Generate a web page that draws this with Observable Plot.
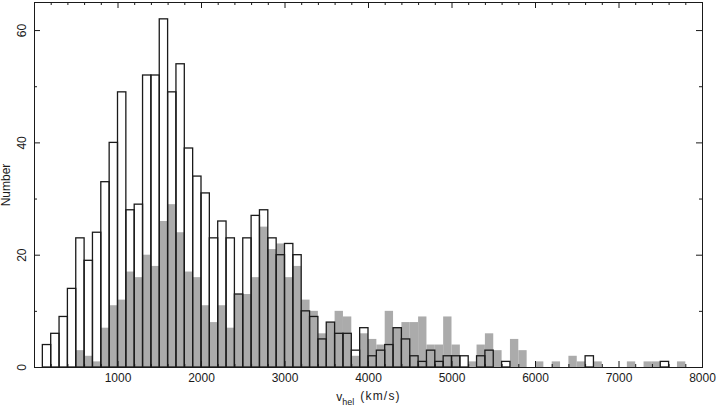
<!DOCTYPE html>
<html>
<head>
<meta charset="utf-8">
<script src="https://cdn.jsdelivr.net/npm/d3@7"></script>
<script src="https://cdn.jsdelivr.net/npm/@observablehq/plot@0.6"></script>
<style>
  html, body { margin: 0; padding: 0; background: #fff; }
  #chart svg { display: block; }
</style>
</head>
<body>
<div id="chart"></div>
<script>
// Bin lower edges (km/s), bin width 100
const binStart = [100,200,300,400,500,600,700,800,900,1000,
  1100,1200,1300,1400,1500,1600,1700,1800,1900,2000,
  2100,2200,2300,2400,2500,2600,2700,2800,2900,3000,
  3100,3200,3300,3400,3500,3600,3700,3800,3900,4000,
  4100,4200,4300,4400,4500,4600,4700,4800,4900,5000,
  5100,5200,5300,5400,5500,5600,5700,5800,5900,6000,
  6100,6200,6300,6400,6500,6600,6700,6800,6900,7000,
  7100,7200,7300,7400,7500,7600,7700];
const binWidth = 100;

// Open (outlined) histogram counts
const openCounts = [4,6,9,14,23,19,24,33,40,49,
  28,29,52,52,62,49,54,39,34,31,
  23,26,23,13,23,27,28,23,20,22,
  20,10,9,5,8,6,6,3,7,2,
  3,4,7,5,2,1,3,1,2,2,
  2,0,2,3,0,1,0,0,0,0,
  0,0,0,0,0,2,0,0,0,0,
  0,0,0,0,1,0,0];

// Grey (filled) histogram counts
const greyCounts = [0,0,0,0,3,2,1,7,11,12,
  17,16,20,18,26,29,24,17,16,11,
  8,11,7,13,13,16,25,21,22,16,
  18,12,10,6,8,10,9,2,6,5,
  4,10,7,8,8,9,4,4,9,4,
  0,1,4,6,3,0,5,3,0,1,
  0,1,0,2,1,0,1,0,0,0,
  1,0,1,1,0,0,1];

// Axis ticks & labels
const xMajor = [0,1000,2000,3000,4000,5000,6000,7000,8000];
const xMinor = [200,400,600,800,1200,1400,1600,1800,2200,2400,2600,2800,3200,3400,3600,3800,
  4200,4400,4600,4800,5200,5400,5600,5800,6200,6400,6600,6800,7200,7400,7600,7800];
const xLabels = [1000,2000,3000,4000,5000,6000,7000,8000];
const yMajor = [0,20,40,60];
const yMinor = [10,30,50];
const yLabels = [0,20,40,60];
const yTitle = "Number";
const xTitleMain = "v";
const xTitleSub = "hel";
const xTitleUnit = "(km/s)";

const W = 718, H = 409;
const mL = 34, mR = 16, mT = 2, mB = 42;
const plotW = W - mL - mR, plotH = H - mT - mB;
const majorLen = 6, minorLen = 3;
const ink = "#1a1a1a";
const font = "'Liberation Sans', Arial, Helvetica, sans-serif";

const openData = binStart.map((s, i) => ({x1: s, x2: s + binWidth, y: openCounts[i]})).filter(d => d.y > 0);
const greyData = binStart.map((s, i) => ({x1: s, x2: s + binWidth, y: greyCounts[i]})).filter(d => d.y > 0);

const chart = Plot.plot({
  width: W,
  height: H,
  marginLeft: mL,
  marginRight: mR,
  marginTop: mT,
  marginBottom: mB,
  x: {domain: [0, 8000], axis: null},
  y: {domain: [0, 65], axis: null},
  style: {fontFamily: font, fontSize: "12px", color: ink, background: "white"},
  marks: [
    Plot.rectY(greyData, {x1: "x1", x2: "x2", y: "y", fill: "#ababab", inset: 0}),
    Plot.rectY(openData, {x1: "x1", x2: "x2", y: "y", fill: "none", stroke: ink, strokeWidth: 1.3, inset: 0}),
    Plot.frame({stroke: ink, strokeWidth: 1}),
    // bottom ticks
    Plot.tickX(xMajor, {x: d => d, insetTop: plotH - majorLen, stroke: ink}),
    Plot.tickX(xMinor, {x: d => d, insetTop: plotH - minorLen, stroke: ink}),
    // top ticks
    Plot.tickX(xMajor, {x: d => d, insetBottom: plotH - majorLen, stroke: ink}),
    Plot.tickX(xMinor, {x: d => d, insetBottom: plotH - minorLen, stroke: ink}),
    // left ticks
    Plot.tickY(yMajor, {y: d => d, insetRight: plotW - majorLen, stroke: ink}),
    Plot.tickY(yMinor, {y: d => d, insetRight: plotW - minorLen, stroke: ink}),
    // right ticks
    Plot.tickY(yMajor, {y: d => d, insetLeft: plotW - majorLen, stroke: ink}),
    Plot.tickY(yMinor, {y: d => d, insetLeft: plotW - minorLen, stroke: ink}),
    // tick labels
    Plot.text(xLabels, {x: d => d, frameAnchor: "bottom", dy: 11, lineAnchor: "middle", text: d => String(d), fontSize: 12, fill: ink}),
    Plot.text(yLabels, {y: d => d, frameAnchor: "left", dx: -12, rotate: -90, textAnchor: "middle", lineAnchor: "middle", text: d => String(d), fontSize: 12, fill: ink}),
    // axis titles
    Plot.text([yTitle], {frameAnchor: "left", dx: -28, rotate: -90, textAnchor: "middle", lineAnchor: "middle", text: d => d, fontSize: 12, fill: ink}),
    Plot.text([xTitleMain], {frameAnchor: "bottom", dy: 30, textAnchor: "middle", lineAnchor: "middle", text: d => d, fontSize: 12, fill: ink, className: "xtitle"})
  ]
});

// Turn the x title into "v" + subscript "hel" + "(km/s)"
d3.select(chart).selectAll(".xtitle text").each(function() {
  const t = d3.select(this);
  t.text(null);
  t.append("tspan").text(xTitleMain);
  t.append("tspan").attr("dy", "0.35em").attr("font-size", "9px").text(xTitleSub);
  t.append("tspan").attr("dy", "-0.35em").attr("dx", "6").attr("letter-spacing", "1.2").text(xTitleUnit);
});

document.getElementById("chart").appendChild(chart);
</script>
</body>
</html>
